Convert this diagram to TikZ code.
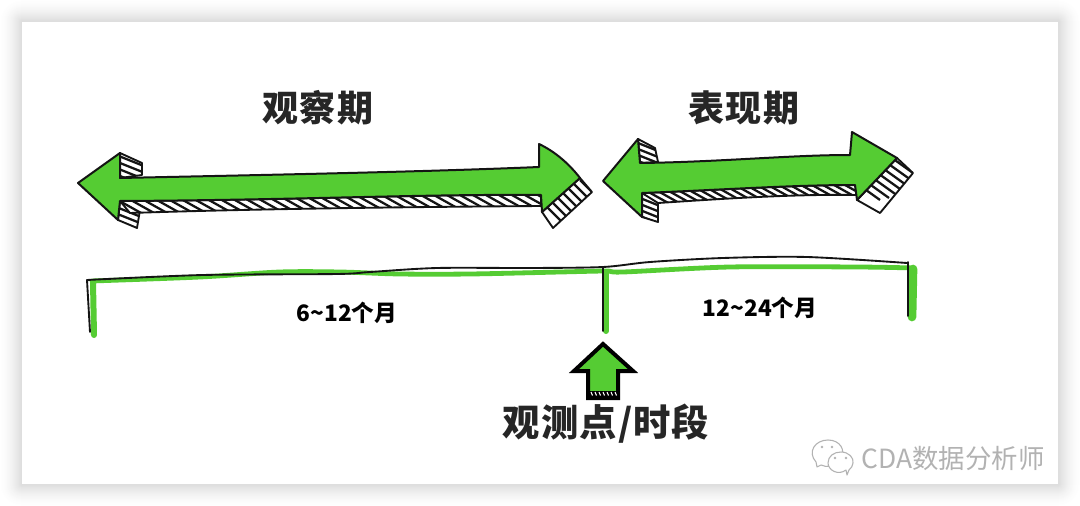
\documentclass[tikz,border=0pt]{standalone}
\usepackage{fontspec}
\newfontfamily\cjk{Noto Sans CJK SC}
\definecolor{grn}{HTML}{55CC33}
\definecolor{ink}{HTML}{141414}
\tikzset{
  blockfill/.style={fill=grn,draw=ink,line width=1.5pt,line join=round},
  hatchbox/.style={fill=white,draw=ink,line width=1.4pt,line join=round},
  hatchline/.style={ink,line width=1.7pt},
  thinhatch/.style={ink,line width=1.5pt},
  inkline/.style={ink,line width=1.4pt,line cap=round},
  greenline/.style={grn,line width=3.6pt,line cap=round},
  bigtitle/.style={font=\cjk\bfseries\fontsize{27}{27}\selectfont\addfontfeature{LetterSpace=5},text=black!85,inner sep=0pt},
  pointtitle/.style={font=\cjk\bfseries\fontsize{28}{28}\selectfont\addfontfeature{LetterSpace=3},text=black!85,inner sep=0pt},
  spanlabel/.style={font=\cjk\bfseries\fontsize{17}{17}\selectfont,text=black,inner sep=0pt},
  watermark/.style={font=\cjk\fontsize{19.8}{20}\selectfont,text=black!30,inner sep=0pt},
  iconbub/.style={draw=black!30,fill=white,line width=0.8pt,line join=round}
}
% #1 polygon, #2 #3 first stripe start, #4 #5 offset between stripes, #6 #7 stripe vector, #8 last index
\newcommand{\hatchedpoly}[8]{%
  \draw[hatchbox] #1 -- cycle;
  \begin{scope}
    \clip #1 -- cycle;
    \foreach \k in {0,...,#8}{
      \draw[hatchline] ({#2+\k*(#4)},{#3+\k*(#5)}) -- ++(#6,#7);
    }
  \end{scope}
}
\begin{document}
\begin{tikzpicture}[x=0.75pt,y=-0.75pt]
\useasboundingbox (0,0) rectangle (1080,506);
% page and soft card shadow
\fill[white] (0,0) rectangle (1080,506);
\foreach \d in {22,21,...,1}{
  \pgfmathsetmacro{\q}{14*(1-\d/23)^1.6}
  \fill[black!\q,rounded corners=\d*0.75pt] (22-\d,22-\d) rectangle (1058+\d,484+\d);
}
\fill[white] (22,22) rectangle (1058,484);

% left block arrow: shadows
\hatchedpoly{(120,153) -- (142,163) -- (142,175) -- (120,178)}{110}{146}{0}{6.5}{40}{16}{6}
\hatchedpoly{(120,200) -- (140,210) -- (137,228) -- (118,220)}{110}{198}{0}{6.5}{40}{16}{6}
\hatchedpoly{(120,201) .. controls (300,200) and (420,194) .. (541,195) -- (541,206) .. controls (400,207) and (250,209) .. (130,213)}{100}{190}{13}{0}{50}{28}{35}
\hatchedpoly{(580,178) -- (592,192) -- (553,228) -- (542,212)}{520}{180}{10}{0}{70}{70}{12}
\draw[blockfill] (78,183) -- (120,153) -- (120,178)
  .. controls (260,175) and (420,172) .. (539,167)
  -- (539,144) .. controls (556,152) and (570,165) .. (580,178)
  -- (542,212) -- (541,195)
  .. controls (420,194) and (300,200) .. (120,201)
  -- (118,220) -- cycle;

% right block arrow: shadows
\hatchedpoly{(638,139) -- (655,148) -- (658,162) -- (640,163)}{628}{133}{0}{6}{40}{16}{6}
\hatchedpoly{(642,193) -- (658,200) -- (658,222) -- (642,217)}{630}{188}{0}{6}{40}{16}{6}
\hatchedpoly{(642,193) .. controls (720,190) and (790,185) .. (855,185) -- (857,195) .. controls (790,194) and (720,199) .. (658,203)}{620}{176}{11}{0}{50}{28}{23}
\hatchedpoly{(897,158) -- (913,173) -- (880,213) -- (857,200)}{810}{150}{9}{-2}{70}{50}{12}
\draw[blockfill] (603,181) -- (638,139) -- (640,163)
  .. controls (720,162) and (790,155) .. (850,155)
  -- (852,132) -- (897,158)
  -- (857,200) -- (855,185)
  .. controls (790,185) and (720,190) .. (642,193)
  -- (642,217) -- cycle;

% time axis: green wash under the ink line
\draw[greenline] plot[smooth,tension=0.5] coordinates {(92,281) (200,277) (280,272) (340,272) (400,274) (470,274) (560,272) (606,271) (623,272) (730,267) (857,267) (914,268)};
\draw[greenline,line width=4.5pt] (93,282) -- (94,335);
\draw[greenline,line width=4.5pt] (606,272) -- (606,331);
\draw[greenline,line width=6.5pt] (913,269) -- (912,317);
\draw[inkline] plot[smooth,tension=0.5] coordinates {(87,280) (203,275) (337,274) (370,272) (437,268) (530,268) (603,267) (650,262) (723,258) (807,257) (907,263)};
\draw[inkline] (87,280) -- (90,332);
\draw[inkline] (603,267) -- (603,331);
\draw[inkline] (908,262) -- (908,316);

% observation-point arrow
\draw[fill=grn,draw=black,line width=3pt,line join=miter]
  (603,344) -- (574,371) -- (588,371) -- (588,398) -- (618,398) -- (618,371) -- (633,371) -- cycle;
\fill[black] (588,391) rectangle (618,398);
\foreach \hx in {591,595,...,615}{
  \draw[white,line width=0.8pt] (\hx,392) -- ++(1.5,3.5);
}

% labels
\node[bigtitle] (obs) at (318,108) {观察期};
\node[bigtitle] (perf) at (744,108) {表现期};
\node[spanlabel] (span1) at (347,313) {6\char"007E 12个月};
\node[spanlabel] (span2) at (760,308) {12\char"007E 24个月};
\node[pointtitle] (point) at (606,424) {观测点/时段};

% watermark
\draw[iconbub] (817,467) -- (816,462) .. controls (807,452) and (815,440) .. (828,440)
  .. controls (840,440) and (846,450) .. (841,459) .. controls (835,466) and (826,468) .. (821,465) -- cycle;
\draw[iconbub] (847,475) -- (846,470) .. controls (838,476) and (828,470) .. (828,463)
  .. controls (828,456) and (834,452) .. (841,452) .. controls (849,452) and (854,458) .. (853,463)
  .. controls (853,466) and (851,468) .. (849,470) -- cycle;
\fill[black!30] (822,447) circle (1.3) (832,447) circle (1.3) (835,458) circle (1.3) (846,458) circle (1.3);
\node[watermark] (mark) at (953,458) {CDA数据分析师};
\end{tikzpicture}
\end{document}
